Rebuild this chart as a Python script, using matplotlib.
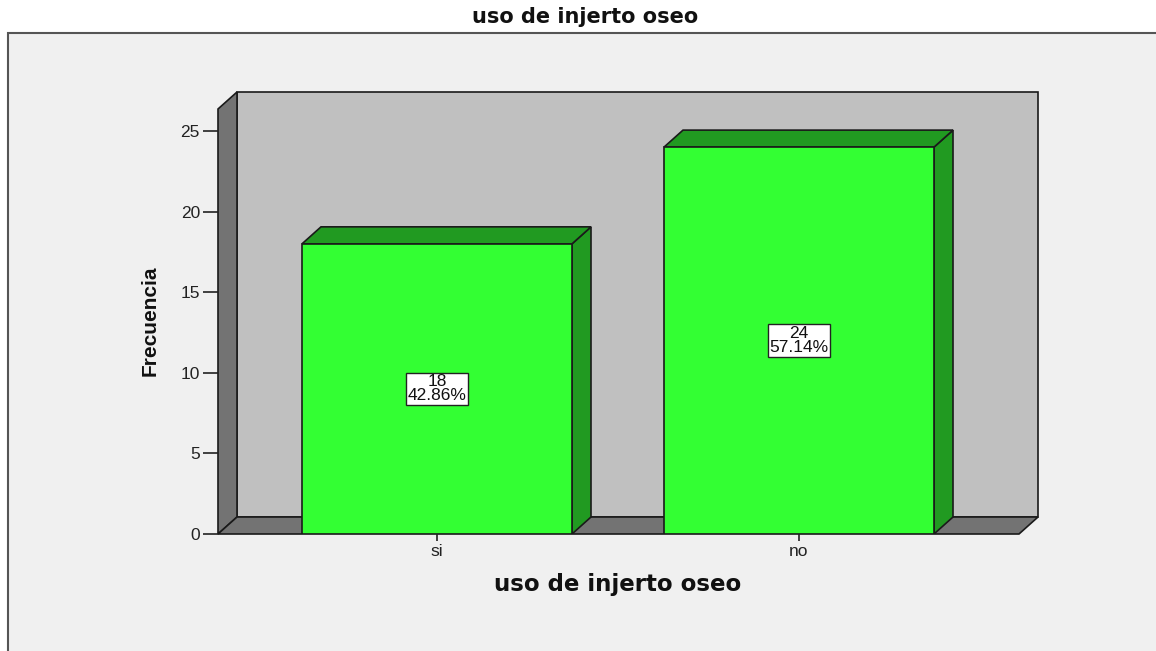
import matplotlib
matplotlib.use("Agg")
import matplotlib.pyplot as plt
from matplotlib.patches import Polygon, Rectangle
import numpy as np

categories = ["si", "no"]
counts = [18, 24]
percents = ["42.86%", "57.14%"]
yticks = [0, 5, 10, 15, 20, 25]
title = "uso de injerto oseo"
xlabel = "uso de injerto oseo"
ylabel = "Frecuencia"

W, H = 1156, 651
fig = plt.figure(figsize=(W / 100, H / 100), dpi=100)
fig.patch.set_facecolor("white")

# grey panel
panel = Rectangle((8 / W, -0.01), 1.0, (H - 33) / H + 0.01, transform=fig.transFigure,
                  facecolor="#f0f0f0", edgecolor="#555555", linewidth=1.5, zorder=-1)
fig.patches.append(panel)

# axes placement (pixels)
left_px, right_px, bottom_px, top_px = 218, 1038, 534, 92
ax = fig.add_axes([left_px / W, (H - bottom_px) / H,
                   (right_px - left_px) / W, (bottom_px - top_px) / H])
ax.set_facecolor("none")
for s in ax.spines.values():
    s.set_visible(False)

xpos = np.arange(len(categories))
px_per_x = 362.0
px_per_y = 16.12
xl = (left_px - 437) / px_per_x
xr = (right_px - 437) / px_per_x
ytop = (bottom_px - top_px) / px_per_y
ax.set_xlim(xl, xr)
ax.set_ylim(0, ytop)

dx = 19 / px_per_x
dy = 17 / px_per_y
edge = "#1a1a1a"
lw = 1.2

# walls
for pts, fc in [([(xl + dx, dy), (xr, dy), (xr, ytop), (xl + dx, ytop)], "#c0c0c0"),
                ([(xl, 0), (xl + dx, dy), (xl + dx, ytop), (xl, ytop - dy)], "#737373"),
                ([(xl, 0), (xr - dx, 0), (xr, dy), (xl + dx, dy)], "#737373")]:
    ax.add_patch(Polygon(pts, closed=True, facecolor=fc, edgecolor=edge, lw=lw,
                         zorder=1, clip_on=False))

bw = 270 / px_per_x
front = "#33ff33"
side = "#219a21"
ax.bar(xpos, counts, width=bw, color=front, edgecolor=edge, linewidth=lw, zorder=3)
for x, v, p in zip(xpos, counts, percents):
    r = x + bw / 2
    l = x - bw / 2
    ax.add_patch(Polygon([(r, 0), (r + dx, dy), (r + dx, v + dy), (r, v)],
                         closed=True, facecolor=side, edgecolor=edge, lw=lw, zorder=2))
    ax.add_patch(Polygon([(l, v), (l + dx, v + dy), (r + dx, v + dy), (r, v)],
                         closed=True, facecolor=side, edgecolor=edge, lw=lw, zorder=2))
    ax.text(x, v / 2, f"{v}\n{p}", ha="center", va="center", fontsize=12.5,
            family="Liberation Sans", color="#111111", linespacing=0.92, zorder=5,
            bbox=dict(boxstyle="square,pad=0.1", facecolor="white", edgecolor="#222222", lw=1))

ax.set_xticks(xpos)
ax.set_xticklabels(categories, family="Liberation Sans", fontsize=12.5, color="#222222")
ax.set_yticks(yticks)
ax.set_yticklabels([str(t) for t in yticks], family="Liberation Sans", fontsize=12.5, color="#222222")
ax.tick_params(axis="y", length=11, width=1.2, color="#222222", pad=2)
ax.tick_params(axis="x", length=5, width=1.2, color="#222222", pad=2)

fig.text(585 / W, 1 - 17 / H, title, ha="center", va="center", fontsize=15,
         fontweight="bold", family="DejaVu Sans", color="#111111")
fig.text(618 / W, 1 - 584 / H, xlabel, ha="center", va="center", fontsize=16.5,
         fontweight="bold", family="DejaVu Sans", color="#111111")
fig.text(150 / W, 1 - 321 / H, ylabel, ha="center", va="center", fontsize=15,
         fontweight="bold", family="Liberation Sans",
         rotation=90, color="#111111")

fig.savefig("out.png", dpi=100)
